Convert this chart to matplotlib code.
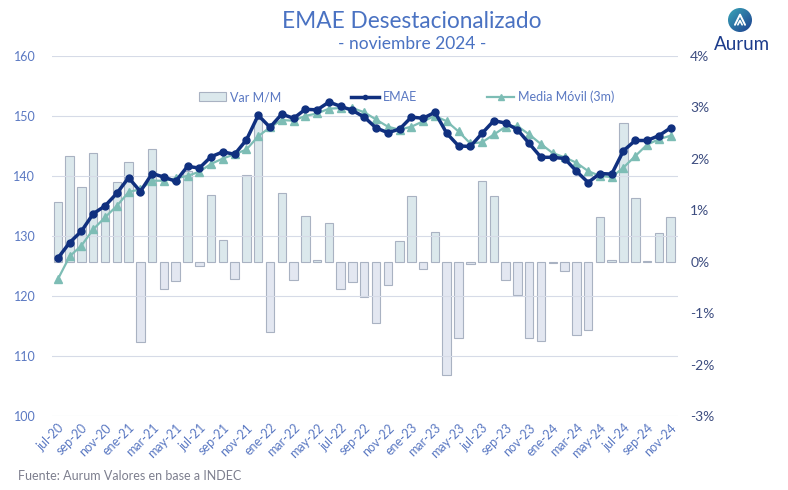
import numpy as np
import matplotlib
matplotlib.use('Agg')
import matplotlib.pyplot as plt
from matplotlib.patches import Patch, Circle
from matplotlib.lines import Line2D

plt.rcParams['font.family'] = ['Lato', 'DejaVu Sans']

# serie mensual jul-20 .. nov-24
meses = ['ene', 'feb', 'mar', 'abr', 'may', 'jun',
         'jul', 'ago', 'sep', 'oct', 'nov', 'dic']
periodos = [f'{m}-{y % 100:02d}'
            for y in range(2020, 2025) for m in meses]
periodos = periodos[6:-1]

emae = [126.3, 128.9, 130.8, 133.7, 135.0, 137.1,
        139.7, 137.4, 140.4, 139.8, 139.1, 141.6,
        141.3, 143.2, 144.0, 143.6, 146.0, 150.1,
        148.1, 150.3, 149.6, 151.1, 151.0, 152.3,
        151.6, 150.9, 149.8, 148.0, 147.2, 147.8,
        149.8, 149.6, 150.6, 147.1, 145.0, 144.9,
        147.1, 149.2, 148.8, 147.7, 145.4, 143.1,
        143.1, 142.9, 140.8, 138.9, 140.4, 140.3,
        144.2, 145.9, 145.9, 146.7, 148.0]

media_movil = [122.8, 126.6, 128.4, 131.1, 133.1, 135.0,
               137.3, 137.8, 139.2, 139.2, 139.6, 140.0,
               140.7, 142.0, 142.9, 143.6, 144.4, 146.6,
               148.1, 149.3, 149.2, 150.0, 150.4, 151.2,
               151.3, 151.3, 150.6, 149.4, 148.2, 147.7,
               148.2, 149.1, 150.0, 149.1, 147.4, 145.4,
               145.6, 146.9, 148.2, 148.3, 146.9, 145.3,
               143.8, 143.1, 142.2, 140.8, 140.0, 139.8,
               141.4, 143.3, 145.2, 146.1, 146.7]

var_mm = [1.15, 2.06, 1.46, 2.12, 1.05, 1.54,
          1.94, -1.57, 2.18, -0.54, -0.38, 1.76,
          -0.09, 1.30, 0.43, -0.33, 1.69, 2.78,
          -1.36, 1.34, -0.36, 0.89, 0.04, 0.76,
          -0.53, -0.39, -0.69, -1.20, -0.46, 0.41,
          1.28, -0.14, 0.58, -2.20, -1.48, -0.05,
          1.56, 1.28, -0.36, -0.64, -1.48, -1.55,
          -0.02, -0.19, -1.42, -1.32, 0.86, 0.03,
          2.69, 1.24, 0.01, 0.56, 0.86]

x = np.arange(len(periodos))

azul = '#5a78c2'
navy = '#10307f'
verde = '#7dbdb5'
pos_color = '#dbe8ec'
neg_color = '#e3e7f1'
borde = '#a9b2c2'

fig = plt.figure(figsize=(7.88, 4.90), dpi=100)
ax = fig.add_axes([0.066, 0.151, 0.794, 0.735])
ax2 = ax.twinx()

# barras en eje derecho, lineas encima
ax2.bar(x, var_mm, width=0.72,
        color=[pos_color if v >= 0 else neg_color for v in var_mm],
        edgecolor=borde, linewidth=0.8)
ax2.set_ylim(-3, 4)
ax2.set_yticks(range(-3, 5))
ax2.set_yticklabels([f'{v}%' for v in range(-3, 5)])

ax.set_zorder(ax2.get_zorder() + 1)
ax.patch.set_visible(False)

ax.plot(x, media_movil, color=verde, lw=1.6, marker='^', ms=6, zorder=3)
ax.plot(x, emae, color=navy, lw=2.5, marker='o', ms=5, zorder=4)

ax.set_ylim(100, 160)
ax.set_yticks(range(100, 161, 10))
ax.set_xlim(-0.5, 52.6)
ax.set_xticks(x[::2])
ax.set_xticklabels(periodos[::2], rotation=45, ha='right',
                   rotation_mode='anchor')
ax.yaxis.grid(True, color='#d6dbe7', lw=0.8)
ax.set_axisbelow(True)

for a in (ax, ax2):
    for spine in a.spines.values():
        spine.set_visible(False)
ax.tick_params(axis='x', length=0, pad=4, labelsize=9, labelcolor=azul)
ax.tick_params(axis='y', length=0, pad=12, labelsize=9, labelcolor=azul)
ax2.tick_params(axis='y', length=0, pad=9, labelsize=10,
                labelcolor='#3d4d80')

handles = [Patch(facecolor=pos_color, edgecolor=borde, linewidth=0.8),
           Line2D([], [], color=navy, lw=2.5, marker='o', ms=3),
           Line2D([], [], color=verde, lw=1.6, marker='^', ms=4)]
ax.legend(handles, ['Var M/M', 'EMAE', 'Media Móvil (3m)'],
          loc='center', bbox_to_anchor=(0.567, 0.886), ncol=3,
          frameon=False, columnspacing=5.6, handlelength=2.2,
          handletextpad=0.3, fontsize=9, labelcolor=azul)

fig.text(0.523, 1 - 22 / 490, 'EMAE Desestacionalizado', ha='center',
         va='center', fontsize=16.3, color='#4a72c2')
fig.text(0.523, 1 - 44 / 490, '- noviembre 2024 -', ha='center',
         va='center', fontsize=12.5, color='#4a72c2')
fig.text(18 / 788, 1 - 476 / 490, 'Fuente: Aurum Valores en base a INDEC',
         ha='left', va='center', fontsize=9, color='#7d7f8e')

# logo
logo = fig.add_axes([(740 - 12) / 788, 1 - 32 / 490, 24 / 788, 24 / 490])
grad = np.linspace(0, 1, 64)
logo.imshow(np.add.outer(grad, grad), cmap=matplotlib.colors.
            LinearSegmentedColormap.from_list('aurum', ['#3aa6b8', '#1d3f8f']),
            extent=(-1, 1, -1, 1), origin='upper')
clip = Circle((0, 0), 1, transform=logo.transData)
logo.images[0].set_clip_path(clip)
logo.plot([-0.42, 0, 0.42], [-0.4, 0.45, -0.4], color='white', lw=1.4,
          solid_capstyle='round')
logo.plot([-0.18, 0, 0.18], [-0.4, -0.05, -0.4], color='white', lw=1.2,
          solid_capstyle='round')
logo.set_xlim(-1, 1)
logo.set_ylim(-1, 1)
logo.axis('off')
fig.text(742 / 788, 1 - 45 / 490, 'Aurum', ha='center', va='center',
         fontsize=13.5, color='#1c3c8c')

fig.savefig('out.png', dpi=100)
